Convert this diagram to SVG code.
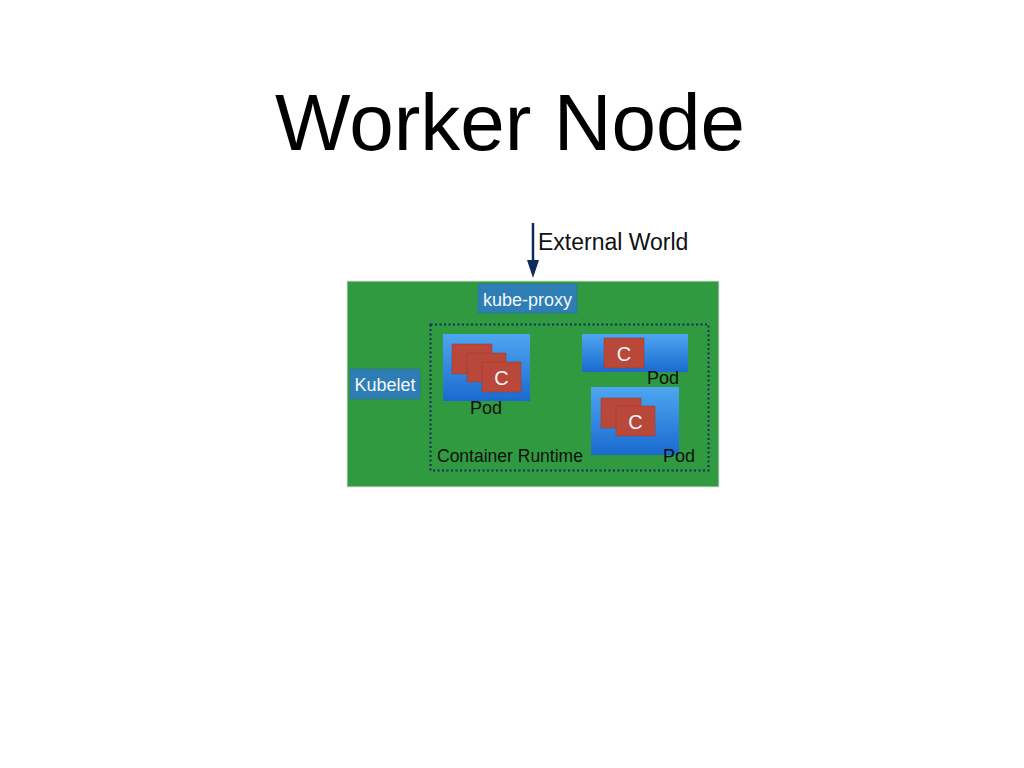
<svg xmlns="http://www.w3.org/2000/svg" width="1024" height="768" viewBox="0 0 1024 768">
<style>
text{font-family:"Liberation Sans",Arial,sans-serif}
.lbl{font-size:18px;fill:#111}
.wt{fill:#f4f7fb}
.box{fill:#2f7db5;stroke:#2a6fa3;stroke-width:0.5}
.pod{fill:url(#podg)}
.ctr{fill:#b9483a;stroke:#9c3a2e;stroke-width:0.5}
</style>
<defs>
<linearGradient id="podg" x1="0" y1="0" x2="0" y2="1">
<stop offset="0" stop-color="#4ea6f0"/>
<stop offset="1" stop-color="#1a6ad0"/>
</linearGradient>
</defs>
<rect width="1024" height="768" fill="#ffffff"/>
<text x="510" y="150" font-size="80" text-anchor="middle" fill="#000">Worker Node</text>

<g id="worker-node">
<rect x="347" y="281" width="372" height="206" fill="#2f9a3f" stroke="#e0e0e0" stroke-width="1"/>
</g>

<g id="container-runtime">
<rect x="430.5" y="324.5" width="278" height="146" fill="none" stroke="#1b2c5e" stroke-width="2" stroke-dasharray="2,2.5"/>
<text x="437" y="462" font-size="17.5" fill="#111">Container Runtime</text>
</g>

<g id="kube-proxy">
<rect class="box" x="478" y="284" width="99" height="29"/>
<text class="wt" x="527.5" y="306" font-size="18" text-anchor="middle">kube-proxy</text>
</g>

<g id="kubelet">
<rect class="box" x="350" y="369" width="70" height="30"/>
<text class="wt" x="385" y="391" font-size="18" text-anchor="middle">Kubelet</text>
</g>

<g id="pod1">
<rect class="pod" x="443" y="334" width="87" height="67"/>
<rect class="ctr" x="452" y="344" width="40" height="30"/>
<rect class="ctr" x="467" y="353" width="39" height="29"/>
<rect class="ctr" x="482" y="362" width="39" height="30"/>
<text class="wt" x="501.5" y="385" font-size="20" text-anchor="middle">C</text>
<text class="lbl" x="486" y="414" text-anchor="middle">Pod</text>
</g>

<g id="pod2">
<rect class="pod" x="582" y="334" width="106" height="38"/>
<rect class="ctr" x="604" y="338" width="40" height="30"/>
<text class="wt" x="624" y="361" font-size="20" text-anchor="middle">C</text>
<text class="lbl" x="663" y="384" text-anchor="middle">Pod</text>
</g>

<g id="pod3">
<rect class="pod" x="591" y="387" width="88" height="68"/>
<rect class="ctr" x="601" y="398" width="40" height="30"/>
<rect class="ctr" x="616" y="406" width="39" height="30"/>
<text class="wt" x="635.5" y="429" font-size="20" text-anchor="middle">C</text>
<text class="lbl" x="679" y="462" text-anchor="middle">Pod</text>
</g>

<g id="connectors">
<line x1="533" y1="223" x2="533" y2="262" stroke="#0d2b5e" stroke-width="2.5"/>
<polygon points="527,260 539,260 533,278" fill="#0d2b5e"/>
</g>
<g id="external-world">
<text x="538" y="250" font-size="23" fill="#111">External World</text>
</g>
</svg>
